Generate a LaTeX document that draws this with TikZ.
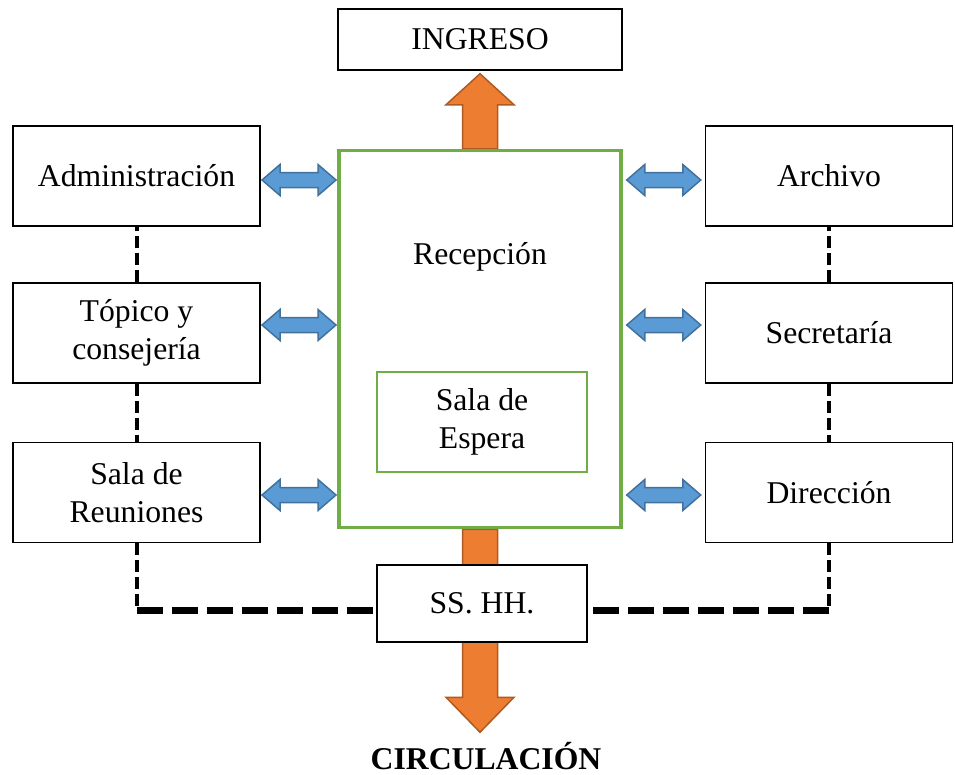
\documentclass[tikz,border=0pt]{standalone}
\usepackage{fontspec}
\setmainfont{Liberation Serif}
\usetikzlibrary{calc,backgrounds}
\definecolor{orfill}{HTML}{ED7D31}
\definecolor{ordraw}{HTML}{AE5A21}
\definecolor{blfill}{HTML}{5B9BD5}
\definecolor{bldraw}{HTML}{41719C}
\definecolor{grn}{HTML}{70AD47}
\tikzset{
  box/.style={draw=black,line width=1.5pt,fill=white,align=center,inner sep=0pt,
    font=\fontsize{31.7}{38}\selectfont},
  greenbox/.style={box,draw=grn},
  dashthin/.style={draw=black,line width=4pt,dash pattern=on 12pt off 5pt},
  dashthick/.style={draw=black,line width=7pt,dash pattern=on 26pt off 9pt},
  orangearrow/.style={draw=ordraw,fill=orfill,line width=1.5pt,line join=miter},
  pics/dblarrow/.style={code={
    \draw[draw=bldraw,fill=blfill,line width=1.5pt,line join=miter]
      (-37,0) -- (-19,-15.5) -- (-19,-7.5) -- (19,-7.5) -- (19,-15.5) -- (37,0)
      -- (19,15.5) -- (19,7.5) -- (-19,7.5) -- (-19,15.5) -- cycle;}}
}
\begin{document}
\begin{tikzpicture}[x=1pt,y=-1pt]
  \useasboundingbox (0,0) rectangle (955,774);
  \begin{scope}[every node/.style={box,minimum width=247pt,minimum height=100pt}]
  \node (adm) at (136.5,176) {Administración};
  \node (top) at (136.5,333) {Tópico y\\consejería};
  \node (reu) at (136.5,492.5) {Sala de\\Reuniones};
  \node (arc) at (829,176) {Archivo};
  \node (sec) at (829,333) {Secretaría};
  \node (dir) at (829,492.5) {Dirección};
  \end{scope}
  \node[box,minimum width=284pt,minimum height=61pt] (ing) at (480,39.5) {INGRESO};
  \node[greenbox,line width=3.5pt,minimum width=282pt,minimum height=377pt] (rec) at (480,339) {};
  \node[font=\fontsize{31.7}{38}\selectfont] (recl) at (480,257) {Recepción};
  \node[greenbox,line width=2.5pt,minimum width=210pt,minimum height=100pt] (esp) at (482,422) {Sala de\\Espera};
  \node[box,minimum width=210pt,minimum height=77pt] (ss) at (482,603.5) {SS. HH.};
  \node[anchor=base,font=\fontsize{31.7}{38}\selectfont\bfseries] (circ) at (486,769) {CIRCULACIÓN};
  % corners of the dashed line
  \coordinate (bl) at ($(reu.south)+(0,67)$);
  \coordinate (br) at ($(dir.south)+(0,67)$);
  \begin{scope}[on background layer]
  \draw[orangearrow] ($(rec.north)+(-17.5,0)$) -- ++(0,-44) -- ++(-16.5,0) -- ($(ing.south)+(0,3)$)
    -- ($(rec.north)+(34,-44)$) -- ++(-16.5,0) -- ++(0,44) -- cycle;
  \draw[orangearrow] ($(rec.south)+(-17.5,0)$) -- ++(0,168) -- ++(-16.5,0) -- ($(rec.south)+(0,203)$)
    -- ($(rec.south)+(34,168)$) -- ++(-16.5,0) -- ++(0,-168) -- cycle;
  \path (top.north) edge[dashthin] (adm.south);
  \path (top.south) edge[dashthin] (reu.north);
  \path (sec.north) edge[dashthin] (arc.south);
  \path (sec.south) edge[dashthin] (dir.north);
  \path (reu.south) edge[dashthin] (bl);
  \path (dir.south) edge[dashthin] (br);
  \path (bl) edge[dashthick] (bl -| ss.west);
  \path (br) edge[dashthick] (br -| ss.east);
  \end{scope}
  \foreach \n/\s in {adm/4,top/-8,reu/2.5}
    \pic at ($(\n.east)!.5!(\n.east -| rec.west)+(0,\s)$) {dblarrow};
  \foreach \n/\s in {arc/4,sec/-8,dir/2.5}
    \pic at ($(\n.west)!.5!(\n.west -| rec.east)+(0,\s)$) {dblarrow};
\end{tikzpicture}
\end{document}
